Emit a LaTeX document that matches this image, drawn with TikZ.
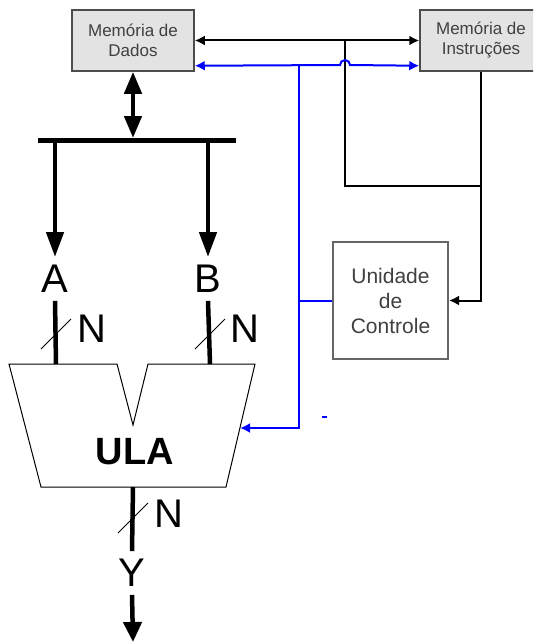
\documentclass[tikz,border=0pt]{standalone}
\usepackage{fontspec}
\setmainfont{Liberation Sans}
\usetikzlibrary{arrows.meta}
\tikzstyle{mem}=[draw=black!70,fill=black!11,line width=1.5pt,minimum width=122pt,minimum height=61pt,inner sep=0pt,text=black!75,align=center,font=\fontsize{17}{20}\selectfont]
\tikzstyle{ctrl}=[draw=black!60,fill=white,line width=2pt,minimum width=115pt,minimum height=117pt,inner sep=0pt,text=black!75,align=center,font=\fontsize{21}{25}\selectfont]
\tikzstyle{lbl}=[inner sep=8pt,font=\fontsize{40}{40}\selectfont]
\tikzstyle{wire}=[line width=4.5pt]
\tikzstyle{link}=[line width=2pt]
\tikzstyle{ctl}=[line width=2pt,blue]
\newcommand{\busmark}[1]{\draw[line width=1pt] (#1) ++(-15,15) -- ++(30,-30);}

\begin{document}
\begin{tikzpicture}[x=1pt,y=-1pt,>={Latex[length=10pt,width=10pt]}]
    \useasboundingbox (0,0) rectangle (533,642);
    \clip (0,0) rectangle (533,642);
    % memories and control
    \node[mem] (md) at (133,40.5) {Memória de\\Dados};
    \node[mem] (mi) at (481,40.5) {Memória de\\Instruções};
    \node[ctrl] (uc) at (390.5,300.5) {Unidade\\de\\Controle};
    \coordinate (j1) at (345,40.5);
    \coordinate (j2) at (481,186);
    \coordinate (j3) at (299,65);
    \coordinate (ic) at (240,428);
    \draw[link,<->] (md.east) -- (mi.west);
    \draw[link] (j1) |- (j2);
    \draw[link,->] (mi.south) |- (uc.east);
    \draw[ctl,<->] ([yshift=6pt]md.south east) -- (340,65) arc[start angle=180,end angle=0,radius=5pt] -- ([yshift=6pt]mi.south west);
    \draw[ctl,->] (j3) |- (ic);
    \draw[ctl] (uc.west -| j3) -- (uc.west);
    \draw[ctl] (322,417) -- (327,417);
    % data bus
    \coordinate (bl) at (38,140);
    \coordinate (br) at (236,140);
    \coordinate (bm) at (133,138);
    \draw[line width=5pt] (bl) -- (br);
    \draw[wire,{Triangle[length=22pt,width=17pt]}-{Triangle[length=22pt,width=17pt]}] (md.south) -- (bm);
    \node[lbl] (a) at (55,279) {A};
    \node[lbl] (b) at (208,279) {B};
    \draw[wire,-{Triangle[length=25pt,width=17pt]}] (a |- bl) -- (a);
    \draw[wire,-{Triangle[length=25pt,width=17pt]}] (b |- bl) -- (b);
    % ULA
    \coordinate (ia) at (56,364);
    \coordinate (ib) at (210,364);
    \coordinate (oy) at (133,487);
    \draw[line width=1pt] (9,364) -- (117,364) -- (133,425) -- (148,364) -- (255,364) -- (226,487) -- (41,487) -- cycle;
    \node[font=\fontsize{38}{38}\selectfont\bfseries] (ula) at (135,452) {ULA};
    \draw[wire] (a.south) -- (ia);
    \draw[wire] (b.south) -- (ib);
    \node[lbl,inner sep=0pt] (na) at (91.5,329) {N};
    \node[lbl,inner sep=0pt] (nb) at (245,329) {N};
    \busmark{56,334}
    \busmark{210,334}
    % output
    \node[lbl] (y) at (132,573) {Y};
    \coordinate (out) at (133,642);
    \draw[wire] (oy) -- (y.north);
    \draw[wire,-{Triangle[length=20pt,width=18pt]}] (y.south) -- (out);
    \node[lbl,inner sep=0pt] (ny) at (169,514) {N};
    \busmark{133,518}
\end{tikzpicture}
\end{document}
